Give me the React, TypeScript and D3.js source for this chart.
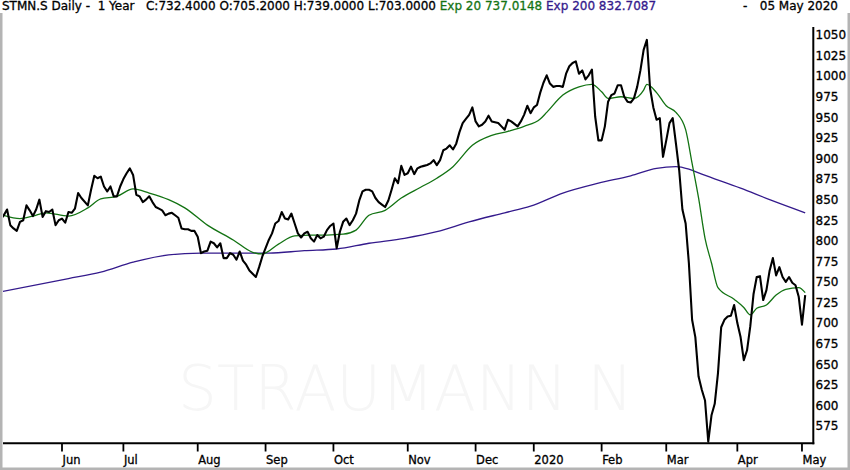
import React from "react";
import * as d3 from "d3";

// ---------- DATA ----------
const titleText = "STMN.S Daily -  1 Year   C:732.4000 O:705.2000 H:739.0000 L:703.0000 ";
const ema20Label = "Exp 20 737.0148 ";
const ema200Label = "Exp 200 832.7087";
const dateLabel = "05 May 2020";
const watermark = "STRAUMANN N";

// first trading day of each month (trading-day index since 06 May 2019)
const monthLabels = ["Jun", "Jul", "Aug", "Sep", "Oct", "Nov", "Dec", "2020", "Feb", "Mar", "Apr", "May"];
const monthDays = [19, 38, 61, 82, 103, 126, 147, 165, 186, 206, 228, 248];

const priceTicks = [575, 600, 625, 650, 675, 700, 725, 750, 775, 800, 825, 850, 875, 900, 925, 950, 975, 1000, 1025, 1050];

// [trading day, close]
const close: [number, number][] = [
  [0, 826], [1, 831], [2, 838], [3, 819], [4, 815], [5, 812], [6, 823], [7, 825], [8, 843], [9, 837],
  [10, 830], [11, 838], [12, 850], [13, 829], [14, 836], [15, 835], [16, 838], [17, 819], [18, 825], [19, 827],
  [20, 822], [21, 835], [22, 834], [23, 839], [24, 858], [25, 852], [27, 843], [28, 862], [29, 879],
  [30, 876], [31, 878], [32, 866], [33, 860], [34, 866], [35, 854], [36, 854], [37, 866], [38, 875], [39, 882],
  [40, 888], [41, 880], [42, 856], [43, 854], [44, 847], [45, 850], [46, 854], [47, 847], [48, 841], [49, 839],
  [50, 837], [51, 831], [52, 833], [53, 834], [54, 831], [55, 828], [56, 815], [57, 814], [58, 814], [59, 812],
  [60, 812], [61, 805], [62, 785], [63, 787], [64, 788], [65, 799], [66, 797], [67, 792], [68, 797], [69, 779],
  [70, 779], [71, 785], [72, 783], [73, 777], [74, 787], [75, 776], [76, 771], [77, 764], [78, 760], [79, 756],
  [80, 768], [81, 781], [82, 791], [83, 801], [84, 809], [85, 821], [86, 824], [87, 835], [88, 827], [89, 826],
  [90, 833], [91, 821], [92, 809], [93, 804], [94, 809], [95, 811], [96, 803], [97, 799], [98, 807], [99, 803],
  [100, 805], [101, 813], [102, 818], [103, 821], [104, 791], [105, 811], [106, 823], [107, 827], [108, 819], [109, 825],
  [110, 833], [111, 849], [112, 860], [113, 862], [114, 862], [115, 860], [116, 852], [117, 847], [118, 844], [119, 841],
  [120, 849], [121, 862], [122, 876], [123, 870], [124, 891], [125, 880], [126, 882], [127, 890], [128, 881], [129, 888],
  [130, 890], [131, 891], [132, 892], [133, 894], [134, 898], [135, 892], [136, 898], [137, 910], [138, 912], [139, 916],
  [140, 911], [141, 918], [142, 932], [143, 943], [144, 948], [145, 953], [146, 962], [147, 945], [148, 939], [149, 941],
  [150, 945], [151, 952], [152, 945], [153, 944], [154, 943], [155, 939], [156, 935], [157, 947], [158, 945], [159, 942],
  [160, 939], [161, 945], [162, 953], [163, 964], [164, 955], [165, 962], [166, 965], [167, 980], [168, 992], [169, 1001],
  [170, 991], [171, 987], [172, 988], [173, 988], [174, 987], [175, 1003], [176, 1012], [177, 1016], [178, 1018], [179, 1003],
  [180, 1007], [181, 996], [182, 1001], [183, 1008], [184, 951], [185, 922], [186, 922], [187, 939], [188, 969], [189, 977],
  [190, 979], [191, 989], [192, 989], [193, 975], [194, 969], [195, 968], [196, 973], [197, 987], [198, 1007], [199, 1032],
  [200, 1044], [201, 985], [202, 962], [203, 947], [204, 949], [205, 902], [206, 922], [207, 943], [208, 949], [209, 918],
  [210, 886], [211, 838], [212, 821], [213, 773], [214, 704], [215, 683], [216, 635], [217, 619], [218, 606], [219, 556],
  [220, 588], [221, 602], [222, 639], [223, 695], [224, 704], [225, 708], [226, 709], [227, 722], [228, 700], [229, 683],
  [230, 655], [231, 667], [232, 696], [233, 735], [234, 756], [235, 757], [236, 728], [237, 740], [238, 764], [239, 779],
  [240, 758], [241, 768], [242, 756], [243, 750], [244, 756], [245, 749], [246, 746], [247, 732], [248, 698], [249, 734],
];

// [trading day, EMA 20]
const ema20: [number, number][] = [
  [1, 831], [6, 827], [10, 830], [14, 834], [21, 830], [27, 840], [31, 851], [36, 854], [41, 863], [46, 858],
  [52, 850], [57, 840], [64, 819], [72, 801], [78, 786], [81, 784], [86, 796], [91, 806], [96, 807], [101, 807],
  [106, 808], [110, 813], [114, 831], [119, 837], [124, 852], [130, 865], [135, 876], [140, 890], [146, 916], [152, 928],
  [157, 933], [162, 939], [167, 948], [169, 956], [174, 977], [179, 987], [183, 990], [186, 981], [188, 973], [192, 975],
  [196, 973], [199, 983], [200, 990], [203, 980], [206, 964], [209, 956], [212, 935], [214, 894], [216, 852], [218, 803],
  [220, 773], [222, 743], [227, 729], [230, 719], [232, 710], [234, 718], [237, 722], [240, 734], [243, 741], [247, 743],
  [249, 737],
];

// [trading day, EMA 200]
const ema200: [number, number][] = [
  [0, 738], [21, 754], [31, 762], [41, 774], [52, 783], [62, 785], [72, 785], [83, 785], [94, 788], [104, 790],
  [114, 797], [125, 803], [135, 811], [145, 823], [156, 834], [164, 842], [174, 858], [185, 870], [195, 879], [203, 888],
  [209, 890], [213, 887], [217, 881], [229, 864], [238, 850], [249, 834],
];

// ---------- CHART ----------
const W = 850;
const H = 470;
const plotLeft = 3;
const plotRight = 813.3;
const plotTop = 27;
const plotBottom = 443.3;
const FONT = "'DejaVu Sans', Verdana, sans-serif";
const GREEN = "#137313";
const PURPLE = "#341a8c";
const textStroke = { stroke: "currentColor", strokeWidth: 0.3 };

export default function App() {
  const x = d3.scaleLinear().domain([0, 249]).range([0.6, 805.2]);
  const y = d3.scaleLinear().domain([575, 1050]).range([426, 35]);

  const priceLine = d3
    .line<[number, number]>()
    .x((d) => x(d[0]))
    .y((d) => y(d[1]));
  const smoothLine = d3
    .line<[number, number]>()
    .x((d) => x(d[0]))
    .y((d) => y(d[1]))
    .curve(d3.curveMonotoneX);

  return (
    <svg
      width={W}
      height={H}
      viewBox={`0 0 ${W} ${H}`}
      style={{ position: "absolute", left: 0, top: 0, background: "#fff" }}
    >
      <defs>
        <clipPath id="plotClip">
          <rect x={plotLeft} y={plotTop - 8} width={plotRight - plotLeft - 1} height={plotBottom - plotTop + 8} />
        </clipPath>
      </defs>
      <rect x={0} y={0} width={W} height={H} fill="#fff" />

      {/* watermark */}
      <text
        x={178}
        y={410}
        fontFamily={FONT}
        fontSize={62}
        fontWeight={200}
        fill="#f6f6f6"
        textLength={455}
        lengthAdjust="spacingAndGlyphs"
      >
        {watermark}
      </text>

      {/* frame */}
      <path d={`M1.25,13 V468.75 H848.75 V13`} fill="none" stroke="#b4b4b4" strokeWidth={2.5} />

      {/* header */}
      <text
        x={2}
        y={10}
        fontFamily={FONT}
        fontSize={12}
        fill="#000"
        color="#000"
        xmlSpace="preserve"
        style={{ whiteSpace: "pre" }}
        {...textStroke}
      >
        {titleText}
        <tspan fill={GREEN} stroke={GREEN}>{ema20Label}</tspan>
        <tspan fill={PURPLE} stroke={PURPLE}>{ema200Label}</tspan>
      </text>
      <text x={743} y={10} fontFamily={FONT} fontSize={12} fill="#000" color="#000" {...textStroke}>
        -
      </text>
      <text x={838} y={10} fontFamily={FONT} fontSize={12} fill="#000" color="#000" textAnchor="end" {...textStroke}>
        {dateLabel}
      </text>

      {/* series */}
      <g clipPath="url(#plotClip)">
        <path d={smoothLine(ema200) || ""} fill="none" stroke={PURPLE} strokeWidth={1.3} />
        <path d={smoothLine(ema20) || ""} fill="none" stroke={GREEN} strokeWidth={1.3} />
        <path d={priceLine(close) || ""} fill="none" stroke="#000" strokeWidth={2.1} strokeLinejoin="round" />
      </g>

      {/* axes */}
      <line x1={plotLeft} x2={plotRight + 1} y1={plotBottom} y2={plotBottom} stroke="#000" strokeWidth={2} />
      <line x1={plotRight} x2={plotRight} y1={plotTop} y2={plotBottom + 1} stroke="#000" strokeWidth={2} />

      {monthLabels.map((m, i) => {
        const px = x(monthDays[i]);
        return (
          <g key={m}>
            <line x1={px} x2={px} y1={plotBottom} y2={451.5} stroke="#000" strokeWidth={1.8} />
            <text x={px + 0.5} y={464} fontFamily={FONT} fontSize={11.5} fill="#000" color="#000" {...textStroke}>
              {m}
            </text>
          </g>
        );
      })}

      {priceTicks.map((v) => (
        <text key={v} x={815.5} y={y(v) + 4.3} fontFamily={FONT} fontSize={12} fill="#000" color="#000" {...textStroke}>
          {v}
        </text>
      ))}
    </svg>
  );
}
